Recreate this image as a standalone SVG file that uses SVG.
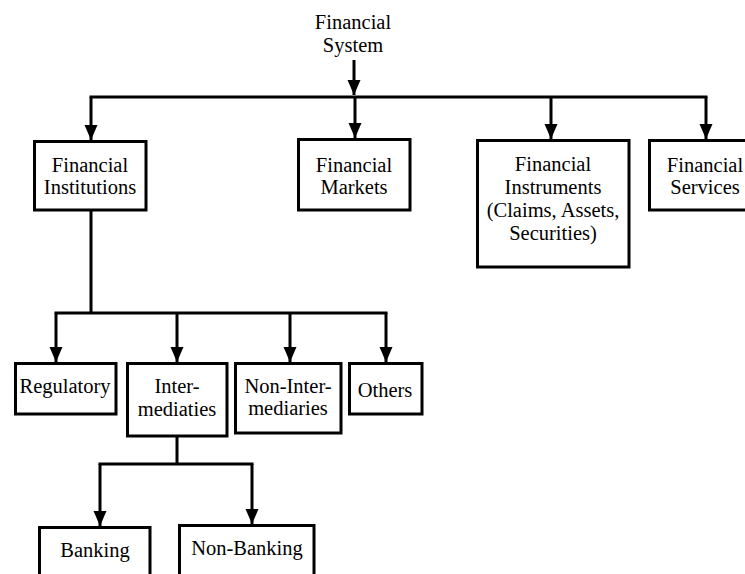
<svg xmlns="http://www.w3.org/2000/svg" width="745" height="574" viewBox="0 0 745 574">
<style>
  .box{fill:#fff;stroke:#000;stroke-width:3}
  text{font-family:'Liberation Serif',serif;font-size:20.5px;fill:#000;text-anchor:middle}
  .c{fill:none;stroke:#000;stroke-width:3}
</style>
<defs>
  <marker id="ah" markerUnits="userSpaceOnUse" markerWidth="16" markerHeight="14" refX="15" refY="6.5" orient="auto">
    <path d="M0,0 L15,6.5 L0,13 z" fill="#000"/>
  </marker>
</defs>
<rect width="745" height="574" fill="#fff"/>
<g id="connectors">
  <path class="c" d="M354,60 V95" marker-end="url(#ah)"/>
  <path class="c" d="M91,98 V97 H706 V98"/>
  <path class="c" d="M91,97 V140" marker-end="url(#ah)"/>
  <path class="c" d="M355,97 V138" marker-end="url(#ah)"/>
  <path class="c" d="M551,97 V139" marker-end="url(#ah)"/>
  <path class="c" d="M706,97 V139" marker-end="url(#ah)"/>
  <path class="c" d="M91,210 V313"/>
  <path class="c" d="M56,314 V313 H386 V314"/>
  <path class="c" d="M56,313 V362" marker-end="url(#ah)"/>
  <path class="c" d="M177,313 V362" marker-end="url(#ah)"/>
  <path class="c" d="M290,313 V362" marker-end="url(#ah)"/>
  <path class="c" d="M386,313 V362" marker-end="url(#ah)"/>
  <path class="c" d="M177,436 V464"/>
  <path class="c" d="M100,465 V464 H252 V465"/>
  <path class="c" d="M100,464 V526" marker-end="url(#ah)"/>
  <path class="c" d="M252,464 V524" marker-end="url(#ah)"/>
</g>
<g id="system">
  <text x="353" y="29" font-family="Liberation Serif">Financial</text>
  <text x="353" y="52" font-family="Liberation Serif">System</text>
</g>
<g id="institutions">
  <rect class="box" x="34.5" y="141.5" width="111.5" height="68.5"/>
  <text x="90" y="172" font-family="Liberation Serif">Financial</text>
  <text x="90" y="194" font-family="Liberation Serif">Institutions</text>
</g>
<g id="markets">
  <rect class="box" x="298.5" y="139.5" width="111.5" height="70.5"/>
  <text x="354" y="172" font-family="Liberation Serif">Financial</text>
  <text x="354" y="194" font-family="Liberation Serif">Markets</text>
</g>
<g id="instruments">
  <rect class="box" x="477.5" y="140.5" width="151.5" height="126.5"/>
  <text x="553" y="171" font-family="Liberation Serif">Financial</text>
  <text x="553" y="194" font-family="Liberation Serif">Instruments</text>
  <text x="553" y="217" font-family="Liberation Serif">(Claims, Assets,</text>
  <text x="553" y="240" font-family="Liberation Serif">Securities)</text>
</g>
<g id="services">
  <rect class="box" x="649.5" y="140.5" width="120" height="69.5"/>
  <text x="705" y="172" font-family="Liberation Serif">Financial</text>
  <text x="705" y="194" font-family="Liberation Serif">Services</text>
</g>
<g id="regulatory">
  <rect class="box" x="15.5" y="363.5" width="100.5" height="50.5"/>
  <text x="65" y="393" font-family="Liberation Serif">Regulatory</text>
</g>
<g id="intermediaties">
  <rect class="box" x="127.5" y="363.5" width="99.5" height="72.5"/>
  <text x="177" y="393" font-family="Liberation Serif">Inter-</text>
  <text x="177" y="416" font-family="Liberation Serif">mediaties</text>
</g>
<g id="nonintermediaries">
  <rect class="box" x="235.5" y="363.5" width="105.5" height="69.5"/>
  <text x="288" y="393" font-family="Liberation Serif">Non-Inter-</text>
  <text x="288" y="415" font-family="Liberation Serif">mediaries</text>
</g>
<g id="others">
  <rect class="box" x="349.5" y="363.5" width="72.5" height="50.5"/>
  <text x="385" y="397" font-family="Liberation Serif">Others</text>
</g>
<g id="banking">
  <rect class="box" x="39.5" y="527.5" width="110.5" height="70"/>
  <text x="95" y="557" font-family="Liberation Serif">Banking</text>
</g>
<g id="nonbanking">
  <rect class="box" x="179.5" y="525.5" width="134.5" height="70"/>
  <text x="247" y="555" font-family="Liberation Serif">Non-Banking</text>
</g>
</svg>
